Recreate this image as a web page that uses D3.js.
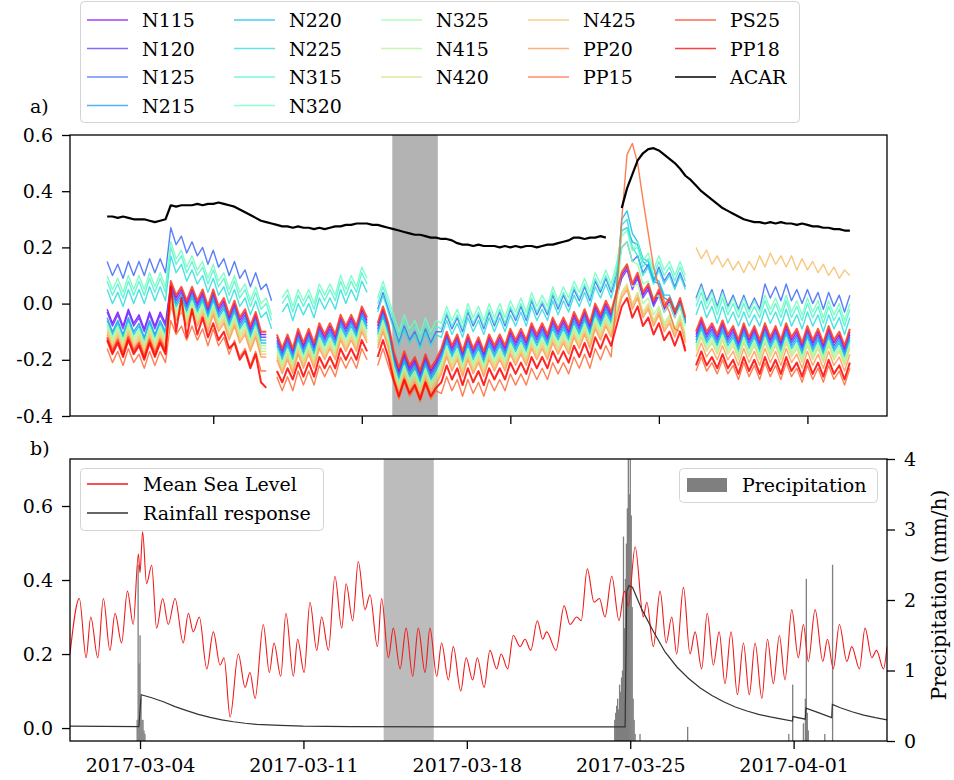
<!DOCTYPE html>
<html>
<head>
<meta charset="utf-8">
<script src="https://d3js.org/d3.v7.min.js"></script>
<style>
  body { margin: 0; background: #fff; }
  svg text { font-family: "DejaVu Serif", "Liberation Serif", "Noto Serif", serif; fill: #000; }
</style>
</head>
<body>
<svg id="chart" width="954" height="780"></svg>
<script>
// ---- panel a) : piezometer levels, one value every 6 h from 2017-03-01 00:00 ----
const gridStart = "2017-03-01T00:00";
const gridStepHours = 6;

const n115 = [-0.02,-0.07,-0.03,-0.08,-0.02,-0.07,-0.04,-0.09,-0.03,-0.08,-0.03,-0.07,
  0.07,0.02,0.05,0.00,0.05,0.00,0.04,-0.02,0.04,-0.02,0.01,-0.05,
  0.00,-0.06,-0.03,-0.09,-0.04,-0.11,-0.11,null,-0.12,-0.17,-0.12,-0.17,
  -0.10,-0.15,-0.10,-0.15,-0.08,-0.12,-0.08,-0.12,-0.05,-0.09,-0.05,-0.09,
  -0.02,-0.06,null,-0.08,-0.02,-0.08,-0.18,-0.24,-0.18,-0.23,-0.20,-0.25,
  -0.19,-0.24,-0.21,-0.17,-0.11,-0.16,-0.12,-0.18,-0.12,-0.17,-0.13,-0.18,
  -0.12,-0.16,-0.12,-0.16,-0.10,-0.14,-0.10,-0.14,-0.08,-0.12,-0.08,-0.12,
  -0.06,-0.10,-0.06,-0.10,-0.04,-0.08,-0.03,-0.08,-0.01,-0.05,0.00,-0.04,
  0.03,0.10,0.13,0.06,0.10,0.03,0.06,0.00,0.04,-0.02,0.01,-0.04,
  0.01,-0.06,null,-0.11,-0.06,-0.11,-0.08,-0.12,-0.07,-0.12,-0.09,-0.14,
  -0.08,-0.13,-0.09,-0.14,-0.08,-0.13,-0.09,-0.14,-0.08,-0.13,-0.10,-0.15,
  -0.09,-0.14,-0.10,-0.15,-0.09,-0.14,-0.11,-0.16,-0.10];
const n120 = [-0.03,-0.08,-0.04,-0.09,-0.03,-0.08,-0.05,-0.10,-0.04,-0.09,-0.04,-0.08,
  0.06,0.01,0.04,-0.01,0.04,-0.01,0.03,-0.03,0.03,-0.03,0.00,-0.06,
  -0.01,-0.07,-0.04,-0.10,-0.05,-0.12,-0.12,null,-0.13,-0.18,-0.13,-0.18,
  -0.11,-0.16,-0.11,-0.16,-0.09,-0.13,-0.09,-0.13,-0.06,-0.10,-0.06,-0.10,
  -0.03,-0.07,null,-0.09,-0.03,-0.09,-0.19,-0.25,-0.19,-0.24,-0.21,-0.26,
  -0.20,-0.25,-0.22,-0.18,-0.12,-0.17,-0.13,-0.19,-0.13,-0.18,-0.14,-0.19,
  -0.13,-0.17,-0.13,-0.17,-0.11,-0.15,-0.11,-0.15,-0.09,-0.13,-0.09,-0.13,
  -0.07,-0.11,-0.07,-0.11,-0.05,-0.09,-0.04,-0.09,-0.02,-0.06,-0.01,-0.05,
  0.02,0.09,0.12,0.05,0.09,0.02,0.05,-0.01,0.03,-0.03,0.00,-0.05,
  0.00,-0.07,null,-0.12,-0.07,-0.12,-0.09,-0.13,-0.08,-0.13,-0.10,-0.15,
  -0.09,-0.14,-0.10,-0.15,-0.09,-0.14,-0.10,-0.15,-0.09,-0.14,-0.11,-0.16,
  -0.10,-0.15,-0.11,-0.16,-0.10,-0.15,-0.12,-0.17,-0.11];
const n125 = [0.15,0.10,0.14,0.09,0.15,0.10,0.15,0.10,0.16,0.11,0.16,0.11,
  0.27,0.21,0.24,0.18,0.22,0.17,0.20,0.14,0.19,0.13,0.16,0.10,
  0.15,0.09,0.12,0.06,0.11,0.05,0.07,0.01,null,null,null,null,
  null,null,null,null,null,null,null,null,null,null,null,null,
  null,null,null,-0.02,0.04,-0.02,-0.08,-0.14,-0.08,-0.13,-0.10,-0.15,
  -0.09,-0.14,-0.10,-0.10,-0.04,-0.09,-0.05,-0.10,-0.03,-0.08,-0.04,-0.09,
  -0.03,-0.08,-0.03,-0.08,-0.02,-0.06,-0.01,-0.06,0.01,-0.04,0.00,-0.04,
  0.03,-0.02,0.03,-0.01,0.05,0.01,0.06,0.01,0.08,0.04,0.09,0.04,
  0.10,0.20,0.22,0.15,0.17,0.11,0.14,0.08,0.13,0.08,0.11,0.06,
  0.11,0.06,null,0.02,0.07,0.01,0.05,-0.01,0.05,-0.01,0.03,-0.02,
  0.03,-0.02,0.02,-0.02,0.07,0.02,0.06,0.01,0.07,0.01,0.05,0.00,
  0.05,0.00,0.04,-0.02,0.04,-0.01,0.03,-0.03,0.03];
const n215 = [-0.05,-0.10,-0.06,-0.11,-0.05,-0.10,-0.07,-0.12,-0.06,-0.11,-0.06,-0.10,
  0.05,0.00,0.03,-0.02,0.03,-0.02,0.02,-0.04,0.02,-0.04,-0.01,-0.07,
  -0.02,-0.08,-0.05,-0.11,-0.06,-0.13,-0.13,null,-0.14,-0.19,-0.14,-0.19,
  -0.12,-0.17,-0.12,-0.17,-0.10,-0.14,-0.10,-0.14,-0.07,-0.11,-0.07,-0.11,
  -0.04,-0.08,null,-0.10,-0.04,-0.10,-0.20,-0.26,-0.20,-0.25,-0.22,-0.27,
  -0.21,-0.26,-0.23,-0.19,-0.13,-0.18,-0.14,-0.20,-0.14,-0.19,-0.15,-0.20,
  -0.14,-0.18,-0.14,-0.18,-0.12,-0.16,-0.12,-0.16,-0.10,-0.14,-0.10,-0.14,
  -0.08,-0.12,-0.08,-0.12,-0.06,-0.10,-0.05,-0.10,-0.03,-0.07,-0.02,-0.06,
  0.04,0.26,0.27,0.22,0.21,0.15,0.13,0.08,0.07,0.02,0.01,-0.03,
  -0.01,-0.07,null,-0.13,-0.08,-0.13,-0.10,-0.14,-0.09,-0.14,-0.11,-0.16,
  -0.10,-0.15,-0.11,-0.16,-0.10,-0.15,-0.11,-0.16,-0.10,-0.15,-0.12,-0.17,
  -0.11,-0.16,-0.12,-0.17,-0.11,-0.16,-0.13,-0.18,-0.12];
const n220 = [-0.06,-0.11,-0.07,-0.12,-0.06,-0.11,-0.08,-0.13,-0.07,-0.12,-0.07,-0.11,
  0.04,-0.01,0.02,-0.03,0.02,-0.03,0.01,-0.05,0.01,-0.05,-0.02,-0.08,
  -0.03,-0.09,-0.06,-0.12,-0.07,-0.14,-0.14,null,-0.15,-0.20,-0.15,-0.20,
  -0.13,-0.18,-0.13,-0.18,-0.11,-0.15,-0.11,-0.15,-0.08,-0.12,-0.08,-0.12,
  -0.05,-0.09,null,-0.11,-0.05,-0.11,-0.21,-0.27,-0.21,-0.26,-0.23,-0.28,
  -0.22,-0.27,-0.24,-0.20,-0.14,-0.19,-0.15,-0.21,-0.15,-0.20,-0.16,-0.21,
  -0.15,-0.19,-0.15,-0.19,-0.13,-0.17,-0.13,-0.17,-0.11,-0.15,-0.11,-0.15,
  -0.09,-0.13,-0.09,-0.13,-0.07,-0.11,-0.06,-0.11,-0.04,-0.08,-0.03,-0.07,
  0.05,0.30,0.33,0.25,0.22,0.16,0.15,0.09,0.08,0.03,0.03,-0.02,
  0.00,-0.06,null,-0.14,-0.09,-0.14,-0.11,-0.15,-0.10,-0.15,-0.12,-0.17,
  -0.11,-0.16,-0.12,-0.17,-0.11,-0.16,-0.12,-0.17,-0.11,-0.16,-0.13,-0.18,
  -0.12,-0.17,-0.13,-0.18,-0.12,-0.17,-0.14,-0.19,-0.13];
const n225 = [0.05,0.00,0.04,-0.01,0.05,0.00,0.05,0.00,0.06,0.01,0.06,0.01,
  0.17,0.11,0.14,0.08,0.12,0.07,0.10,0.04,0.09,0.03,0.06,0.00,
  0.05,-0.01,0.02,-0.04,0.01,-0.05,-0.03,-0.09,null,-0.03,0.00,-0.06,
  0.00,-0.04,0.00,-0.05,0.02,-0.02,0.02,-0.02,0.05,0.00,0.05,0.01,
  0.08,0.04,null,-0.03,0.03,-0.03,-0.09,-0.15,-0.09,-0.14,-0.11,-0.16,
  -0.10,-0.15,-0.11,-0.12,-0.06,-0.11,-0.07,-0.12,-0.05,-0.10,-0.06,-0.11,
  -0.05,-0.10,-0.05,-0.10,-0.04,-0.08,-0.03,-0.08,-0.01,-0.06,-0.02,-0.06,
  0.01,-0.04,0.01,-0.03,0.03,-0.01,0.04,-0.01,0.06,0.02,0.07,0.02,
  0.09,0.28,0.30,0.20,0.17,0.10,0.13,0.07,0.12,0.07,0.10,0.05,
  0.10,0.05,null,-0.04,0.01,-0.05,-0.01,-0.07,-0.01,-0.07,-0.03,-0.08,
  -0.03,-0.08,-0.04,-0.08,-0.02,-0.07,-0.03,-0.08,-0.02,-0.08,-0.04,-0.09,
  -0.03,-0.08,-0.04,-0.10,-0.04,-0.09,-0.05,-0.11,-0.05];
const n315 = [0.08,0.03,0.07,0.02,0.08,0.03,0.08,0.03,0.09,0.04,0.09,0.04,
  0.20,0.14,0.17,0.11,0.15,0.10,0.13,0.07,0.12,0.06,0.09,0.03,
  0.08,0.02,0.05,-0.01,0.04,-0.02,0.00,-0.06,null,0.00,0.03,-0.03,
  0.03,-0.01,0.03,-0.02,0.05,0.01,0.05,0.01,0.08,0.03,0.08,0.04,
  0.11,0.07,null,0.00,0.06,0.00,-0.06,-0.12,-0.06,-0.11,-0.08,-0.13,
  -0.07,-0.12,-0.08,-0.09,-0.03,-0.08,-0.04,-0.09,-0.02,-0.07,-0.03,-0.08,
  -0.02,-0.07,-0.02,-0.07,-0.01,-0.05,0.00,-0.05,0.02,-0.03,0.01,-0.03,
  0.04,-0.01,0.04,0.00,0.06,0.02,0.07,0.02,0.09,0.05,0.10,0.05,
  0.12,0.26,0.27,0.19,0.20,0.13,0.16,0.10,0.15,0.10,0.13,0.08,
  0.13,0.08,null,-0.01,0.04,-0.02,0.02,-0.04,0.02,-0.04,0.00,-0.05,
  0.00,-0.05,-0.01,-0.05,0.01,-0.04,0.00,-0.05,0.01,-0.05,-0.01,-0.06,
  0.00,-0.05,-0.01,-0.07,-0.01,-0.06,-0.02,-0.08,-0.02];
const n320 = [0.10,0.05,0.09,0.04,0.10,0.05,0.10,0.05,0.11,0.06,0.11,0.06,
  0.22,0.16,0.19,0.13,0.17,0.12,0.15,0.09,0.14,0.08,0.11,0.05,
  0.10,0.04,0.07,0.01,0.06,0.00,0.02,-0.04,null,0.02,0.05,-0.01,
  0.05,0.01,0.05,0.00,0.07,0.03,0.07,0.03,0.10,0.05,0.10,0.06,
  0.13,0.09,null,0.02,0.08,0.02,-0.04,-0.10,-0.04,-0.09,-0.06,-0.11,
  -0.05,-0.10,-0.06,-0.07,-0.01,-0.06,-0.02,-0.07,0.00,-0.05,-0.01,-0.06,
  0.00,-0.05,0.00,-0.05,0.01,-0.03,0.02,-0.03,0.04,-0.01,0.03,-0.01,
  0.06,0.01,0.06,0.02,0.08,0.04,0.09,0.04,0.11,0.07,0.12,0.07,
  0.14,0.24,0.26,0.19,0.22,0.15,0.18,0.12,0.17,0.12,0.15,0.10,
  0.15,0.10,null,0.01,0.06,0.00,0.04,-0.02,0.04,-0.02,0.02,-0.03,
  0.02,-0.03,0.01,-0.03,0.03,-0.02,0.02,-0.03,0.03,-0.03,0.01,-0.04,
  0.02,-0.03,0.01,-0.05,0.01,-0.04,0.00,-0.06,0.00];
const n325 = [-0.07,-0.12,-0.08,-0.13,-0.07,-0.12,-0.09,-0.14,-0.08,-0.13,-0.08,-0.12,
  0.03,-0.02,0.01,-0.04,0.01,-0.04,0.00,-0.06,0.00,-0.06,-0.03,-0.09,
  -0.04,-0.10,-0.07,-0.13,-0.08,-0.15,-0.15,null,-0.16,-0.21,-0.16,-0.21,
  -0.14,-0.19,-0.14,-0.19,-0.12,-0.16,-0.12,-0.16,-0.09,-0.13,-0.09,-0.13,
  -0.06,-0.10,null,-0.12,-0.06,-0.12,-0.22,-0.28,-0.22,-0.27,-0.24,-0.29,
  -0.23,-0.28,-0.25,-0.21,-0.15,-0.20,-0.16,-0.22,-0.16,-0.21,-0.17,-0.22,
  -0.16,-0.20,-0.16,-0.20,-0.14,-0.18,-0.14,-0.18,-0.12,-0.16,-0.12,-0.16,
  -0.10,-0.14,-0.10,-0.14,-0.08,-0.12,-0.07,-0.12,-0.05,-0.09,-0.04,-0.08,
  0.02,0.20,0.22,0.15,0.14,0.07,0.08,0.02,0.03,-0.03,0.00,-0.05,
  -0.01,-0.08,null,-0.15,-0.10,-0.15,-0.12,-0.16,-0.11,-0.16,-0.13,-0.18,
  -0.12,-0.17,-0.13,-0.18,-0.12,-0.17,-0.13,-0.18,-0.12,-0.17,-0.14,-0.19,
  -0.13,-0.18,-0.14,-0.19,-0.13,-0.18,-0.15,-0.20,-0.14];
const n415 = [-0.08,-0.13,-0.09,-0.14,-0.08,-0.13,-0.10,-0.15,-0.09,-0.14,-0.09,-0.13,
  0.02,-0.03,0.00,-0.05,0.00,-0.05,-0.01,-0.07,-0.01,-0.07,-0.04,-0.10,
  -0.05,-0.11,-0.08,-0.14,-0.09,-0.16,-0.16,null,-0.17,-0.22,-0.17,-0.22,
  -0.15,-0.20,-0.15,-0.20,-0.13,-0.17,-0.13,-0.17,-0.10,-0.14,-0.10,-0.14,
  -0.07,-0.11,null,-0.13,-0.07,-0.13,-0.23,-0.29,-0.23,-0.28,-0.25,-0.30,
  -0.24,-0.29,-0.26,-0.22,-0.16,-0.21,-0.17,-0.23,-0.17,-0.22,-0.18,-0.23,
  -0.17,-0.21,-0.17,-0.21,-0.15,-0.19,-0.15,-0.19,-0.13,-0.17,-0.13,-0.17,
  -0.11,-0.15,-0.11,-0.15,-0.09,-0.13,-0.08,-0.13,-0.06,-0.10,-0.05,-0.09,
  0.00,0.12,0.14,0.06,0.07,0.00,0.02,-0.04,-0.01,-0.07,-0.04,-0.09,
  -0.04,-0.11,null,-0.16,-0.11,-0.16,-0.13,-0.17,-0.12,-0.17,-0.14,-0.19,
  -0.13,-0.18,-0.14,-0.19,-0.13,-0.18,-0.14,-0.19,-0.13,-0.18,-0.15,-0.20,
  -0.14,-0.19,-0.15,-0.20,-0.14,-0.19,-0.16,-0.21,-0.15];
const n420 = [-0.09,-0.14,-0.10,-0.15,-0.09,-0.14,-0.11,-0.16,-0.10,-0.15,-0.10,-0.14,
  0.01,-0.04,-0.01,-0.06,-0.01,-0.06,-0.02,-0.08,-0.02,-0.08,-0.05,-0.11,
  -0.06,-0.12,-0.09,-0.15,-0.10,-0.17,-0.17,null,-0.18,-0.23,-0.18,-0.23,
  -0.16,-0.21,-0.16,-0.21,-0.14,-0.18,-0.14,-0.18,-0.11,-0.15,-0.11,-0.15,
  -0.08,-0.12,null,-0.14,-0.08,-0.14,-0.24,-0.30,-0.24,-0.29,-0.26,-0.31,
  -0.25,-0.30,-0.27,-0.23,-0.17,-0.22,-0.18,-0.24,-0.18,-0.23,-0.19,-0.24,
  -0.18,-0.22,-0.18,-0.22,-0.16,-0.20,-0.16,-0.20,-0.14,-0.18,-0.14,-0.18,
  -0.12,-0.16,-0.12,-0.16,-0.10,-0.14,-0.09,-0.14,-0.07,-0.11,-0.06,-0.10,
  -0.03,0.04,0.07,0.00,0.04,-0.03,0.00,-0.06,-0.02,-0.08,-0.05,-0.10,
  -0.05,-0.12,null,-0.17,-0.12,-0.17,-0.14,-0.18,-0.13,-0.18,-0.15,-0.20,
  -0.14,-0.19,-0.15,-0.20,-0.14,-0.19,-0.15,-0.20,-0.14,-0.19,-0.16,-0.21,
  -0.15,-0.20,-0.16,-0.21,-0.15,-0.20,-0.17,-0.22,-0.16];
const n425 = [-0.10,-0.15,-0.11,-0.16,-0.10,-0.15,-0.12,-0.17,-0.11,-0.16,-0.11,-0.15,
  0.00,-0.05,-0.02,-0.07,-0.02,-0.07,-0.03,-0.09,-0.03,-0.09,-0.06,-0.12,
  -0.07,-0.13,-0.10,-0.16,-0.11,-0.18,-0.18,null,-0.19,-0.24,-0.19,-0.24,
  -0.17,-0.22,-0.17,-0.22,-0.15,-0.19,-0.15,-0.19,-0.12,-0.16,-0.12,-0.16,
  -0.09,-0.13,null,-0.15,-0.09,-0.15,-0.25,-0.31,-0.25,-0.30,-0.27,-0.32,
  -0.26,-0.31,-0.28,-0.24,-0.18,-0.23,-0.19,-0.25,-0.19,-0.24,-0.20,-0.25,
  -0.19,-0.23,-0.19,-0.23,-0.17,-0.21,-0.17,-0.21,-0.15,-0.19,-0.15,-0.19,
  -0.13,-0.17,-0.13,-0.17,-0.11,-0.15,-0.10,-0.15,-0.08,-0.12,-0.07,-0.11,
  -0.04,0.03,0.06,-0.01,0.03,-0.04,-0.01,-0.07,-0.03,-0.09,-0.06,-0.11,
  -0.06,-0.13,null,0.20,0.16,0.19,0.14,0.17,0.13,0.16,0.12,0.15,
  0.11,0.15,0.12,0.17,0.13,0.18,0.14,0.17,0.13,0.17,0.12,0.16,
  0.12,0.15,0.11,0.14,0.10,0.13,0.09,0.12,0.10];
const pp20 = [-0.11,-0.16,-0.12,-0.17,-0.11,-0.16,-0.13,-0.18,-0.12,-0.17,-0.12,-0.16,
  -0.01,-0.06,-0.03,-0.08,-0.03,-0.08,-0.04,-0.10,-0.04,-0.10,-0.07,-0.13,
  -0.08,-0.14,-0.11,-0.17,-0.12,-0.19,-0.19,null,-0.20,-0.25,-0.20,-0.25,
  -0.18,-0.23,-0.18,-0.23,-0.16,-0.20,-0.16,-0.20,-0.13,-0.17,-0.13,-0.17,
  -0.10,-0.14,null,-0.16,-0.10,-0.16,-0.26,-0.32,-0.26,-0.31,-0.28,-0.33,
  -0.27,-0.32,-0.29,-0.25,-0.19,-0.24,-0.20,-0.26,-0.20,-0.25,-0.21,-0.26,
  -0.20,-0.24,-0.20,-0.24,-0.18,-0.22,-0.18,-0.22,-0.16,-0.20,-0.16,-0.20,
  -0.14,-0.18,-0.14,-0.18,-0.12,-0.16,-0.11,-0.16,-0.09,-0.13,-0.08,-0.12,
  -0.05,0.02,0.05,-0.02,0.02,-0.05,-0.02,-0.08,-0.04,-0.10,-0.07,-0.12,
  -0.07,-0.14,null,-0.19,-0.14,-0.19,-0.16,-0.20,-0.15,-0.20,-0.17,-0.22,
  -0.16,-0.21,-0.17,-0.22,-0.16,-0.21,-0.17,-0.22,-0.16,-0.21,-0.18,-0.23,
  -0.17,-0.22,-0.18,-0.23,-0.17,-0.22,-0.19,-0.24,-0.18];
const pp15 = [-0.16,-0.21,-0.17,-0.22,-0.16,-0.21,-0.18,-0.23,-0.17,-0.22,-0.17,-0.21,
  -0.06,-0.11,-0.08,-0.13,-0.08,-0.13,-0.09,-0.15,-0.09,-0.15,-0.12,-0.18,
  -0.13,-0.19,-0.16,-0.22,-0.17,-0.24,-0.24,null,-0.26,-0.31,-0.26,-0.31,
  -0.24,-0.29,-0.24,-0.29,-0.22,-0.26,-0.22,-0.26,-0.19,-0.23,-0.19,-0.23,
  -0.16,-0.20,null,-0.22,-0.16,-0.22,-0.28,-0.34,-0.28,-0.33,-0.30,-0.35,
  -0.29,-0.34,-0.31,-0.32,-0.26,-0.31,-0.27,-0.33,-0.27,-0.32,-0.28,-0.33,
  -0.27,-0.31,-0.27,-0.31,-0.25,-0.29,-0.25,-0.29,-0.23,-0.27,-0.23,-0.27,
  -0.21,-0.25,-0.21,-0.25,-0.19,-0.23,-0.18,-0.23,-0.16,-0.20,-0.15,-0.19,
  0.02,0.30,0.53,0.57,0.50,0.37,0.25,0.13,0.06,0.01,-0.03,-0.09,
  -0.10,-0.16,null,-0.24,-0.19,-0.24,-0.21,-0.25,-0.20,-0.25,-0.22,-0.27,
  -0.21,-0.26,-0.22,-0.27,-0.21,-0.26,-0.22,-0.27,-0.21,-0.26,-0.23,-0.28,
  -0.22,-0.27,-0.23,-0.28,-0.22,-0.27,-0.24,-0.29,-0.23];
const ps25 = [-0.12,-0.17,-0.13,-0.18,-0.12,-0.17,-0.14,-0.19,-0.13,-0.18,-0.13,-0.17,
  0.08,0.03,0.06,0.01,0.06,0.01,0.05,-0.01,0.05,-0.01,0.02,-0.04,
  0.01,-0.05,-0.02,-0.08,-0.03,-0.10,-0.10,null,-0.11,-0.16,-0.11,-0.16,
  -0.09,-0.14,-0.09,-0.14,-0.07,-0.11,-0.07,-0.11,-0.04,-0.08,-0.04,-0.08,
  -0.01,-0.05,null,-0.07,-0.01,-0.07,-0.17,-0.23,-0.17,-0.22,-0.19,-0.24,
  -0.18,-0.23,-0.20,-0.16,-0.10,-0.15,-0.11,-0.17,-0.11,-0.16,-0.12,-0.17,
  -0.11,-0.15,-0.11,-0.15,-0.09,-0.13,-0.09,-0.13,-0.07,-0.11,-0.07,-0.11,
  -0.05,-0.09,-0.05,-0.09,-0.03,-0.07,-0.02,-0.07,0.00,-0.04,0.01,-0.03,
  0.04,0.11,0.14,0.07,0.11,0.04,0.07,0.01,0.05,-0.01,0.02,-0.03,
  0.02,-0.05,null,-0.10,-0.05,-0.10,-0.07,-0.11,-0.06,-0.11,-0.08,-0.13,
  -0.07,-0.12,-0.08,-0.13,-0.07,-0.12,-0.08,-0.13,-0.07,-0.12,-0.09,-0.14,
  -0.08,-0.13,-0.09,-0.14,-0.08,-0.13,-0.10,-0.15,-0.09];
const pp18 = [-0.13,-0.18,-0.14,-0.19,-0.13,-0.18,-0.15,-0.20,-0.14,-0.19,-0.14,-0.18,
  0.06,-0.10,0.02,-0.12,-0.02,-0.11,-0.05,-0.12,-0.07,-0.13,-0.10,-0.16,
  -0.14,-0.20,-0.17,-0.23,-0.18,-0.28,-0.30,null,-0.24,-0.28,-0.23,-0.27,
  -0.21,-0.26,-0.21,-0.26,-0.19,-0.23,-0.19,-0.23,-0.16,-0.20,-0.16,-0.20,
  -0.13,-0.17,null,-0.19,-0.13,-0.19,-0.27,-0.33,-0.27,-0.32,-0.29,-0.34,
  -0.28,-0.33,-0.30,-0.28,-0.22,-0.27,-0.23,-0.29,-0.23,-0.28,-0.24,-0.29,
  -0.23,-0.27,-0.23,-0.27,-0.21,-0.25,-0.21,-0.25,-0.19,-0.23,-0.19,-0.23,
  -0.17,-0.21,-0.17,-0.21,-0.15,-0.19,-0.14,-0.19,-0.12,-0.16,-0.11,-0.15,
  -0.08,-0.01,0.02,-0.05,-0.01,-0.08,-0.05,-0.11,-0.07,-0.13,-0.10,-0.15,
  -0.10,-0.17,null,-0.22,-0.17,-0.22,-0.19,-0.23,-0.18,-0.23,-0.20,-0.25,
  -0.19,-0.24,-0.20,-0.25,-0.19,-0.24,-0.20,-0.25,-0.19,-0.24,-0.21,-0.26,
  -0.20,-0.25,-0.21,-0.26,-0.20,-0.25,-0.22,-0.27,-0.21];
const acar = [0.31,0.31,0.305,0.31,0.305,0.30,0.30,0.30,0.295,0.29,0.295,0.30,
  0.35,0.345,0.35,0.35,0.35,0.355,0.35,0.355,0.355,0.36,0.355,0.35,
  0.345,0.335,0.325,0.315,0.305,0.295,0.29,0.285,0.28,0.275,0.275,0.27,
  0.275,0.27,0.27,0.265,0.27,0.265,0.27,0.275,0.275,0.28,0.28,0.285,
  0.285,0.285,0.28,0.28,0.275,0.27,0.265,0.26,0.255,0.25,0.245,0.245,
  0.24,0.235,0.235,0.23,0.23,0.225,0.215,0.21,0.21,0.205,0.21,0.205,
  0.205,0.205,0.20,0.205,0.20,0.205,0.20,0.205,0.205,0.20,0.205,0.21,
  0.21,0.215,0.22,0.225,0.235,0.235,0.23,0.235,0.235,0.24,0.235,null,
  null,0.34,0.41,0.46,0.51,0.535,0.55,0.553,0.545,0.53,0.515,0.50,
  0.48,0.455,0.44,0.42,0.40,0.385,0.37,0.355,0.34,0.33,0.32,0.31,
  0.30,0.295,0.29,0.29,0.285,0.29,0.285,0.29,0.285,0.285,0.28,0.285,
  0.28,0.275,0.275,0.27,0.27,0.265,0.265,0.26,0.26];

const seriesNames = ["N115","N120","N125","N215","N220","N225","N315","N320","N325",
  "N415","N420","N425","PP20","PP15","PS25","PP18","ACAR"];
const seriesValues = [n115,n120,n125,n215,n220,n225,n315,n320,n325,
  n415,n420,n425,pp20,pp15,ps25,pp18,acar];

const yTicksA = [-0.4,-0.2,0.0,0.2,0.4,0.6];

// grey span (both panels)
const bandSpan = ["2017-03-14T10:30", "2017-03-16T14:00"];

// ---- panel b) : mean sea level, peaks and troughs, in days since 2017-03-01 ----
const mslDays = [0.00,0.40,0.69,0.89,1.19,1.43,1.71,1.93,2.21,2.46,
  2.71,2.93,3.00,3.11,3.28,3.50,3.71,3.97,4.21,4.50,
  4.85,5.07,5.28,5.54,5.86,6.14,6.43,6.60,6.86,7.21,
  7.50,7.71,7.93,8.28,8.54,8.74,9.03,9.25,9.57,9.75,
  10.03,10.28,10.57,10.78,11.07,11.35,11.64,11.83,12.11,12.35,
  12.64,12.85,13.17,13.35,13.64,13.85,14.14,14.40,14.68,14.92,
  15.21,15.42,15.71,15.92,16.21,16.42,16.74,16.97,17.25,17.45,
  17.74,17.99,18.28,18.47,18.75,18.99,19.28,19.49,19.74,20.02,
  20.25,20.42,20.82,21.17,21.42,21.71,21.90,22.16,22.45,22.68,
  22.92,23.21,23.52,23.75,23.92,24.21,24.56,24.71,24.99,25.28,
  25.54,25.78,25.99,26.28,26.56,26.78,27.06,27.30,27.56,27.81,
  28.06,28.32,28.59,28.85,29.10,29.35,29.64,29.88,30.13,30.39,
  30.63,30.92,31.20,31.42,31.63,31.92,32.25,32.45,32.70,32.96,
  33.28,33.49,33.82,34.06,34.35,34.55,34.85,35.00];
const mslLevel = [0.20,0.35,0.19,0.30,0.19,0.35,0.21,0.31,0.23,0.37,
  0.28,0.47,0.42,0.53,0.39,0.44,0.27,0.35,0.28,0.35,
  0.23,0.31,0.26,0.30,0.16,0.26,0.17,0.19,0.03,0.20,
  0.11,0.15,0.08,0.28,0.15,0.23,0.14,0.31,0.14,0.24,
  0.15,0.34,0.21,0.30,0.21,0.41,0.27,0.39,0.29,0.45,
  0.32,0.36,0.22,0.35,0.19,0.27,0.16,0.27,0.14,0.27,
  0.15,0.27,0.14,0.23,0.13,0.22,0.10,0.19,0.13,0.19,
  0.11,0.21,0.16,0.20,0.16,0.25,0.22,0.24,0.21,0.29,
  0.24,0.26,0.21,0.33,0.28,0.30,0.29,0.43,0.34,0.35,
  0.30,0.41,0.29,0.37,0.33,0.49,0.30,0.34,0.22,0.37,
  0.23,0.30,0.20,0.38,0.20,0.26,0.16,0.31,0.17,0.26,
  0.12,0.26,0.09,0.23,0.09,0.23,0.08,0.24,0.12,0.25,
  0.13,0.32,0.19,0.28,0.18,0.32,0.18,0.24,0.16,0.28,
  0.18,0.22,0.16,0.27,0.19,0.21,0.16,0.22];

// rainfall response (m)
const rrDays = [0,2.95,3.05,3.5,4.0,4.5,5.0,5.5,6.0,6.5,
  7.0,7.5,8.0,9.0,10.0,12.0,16.0,20.0,23.78,23.85,
  23.95,24.1,24.5,25.0,25.5,26.0,26.5,27.0,27.5,28.0,
  28.5,29.0,29.5,30.0,30.5,30.95,30.97,31.5,31.53,32.0,
  32.63,32.66,33.0,33.5,34.0,34.5,35.0];
const rrLevel = [0.005,0.004,0.090,0.082,0.071,0.058,0.047,0.037,0.029,0.022,
  0.017,0.013,0.010,0.007,0.005,0.004,0.003,0.003,0.003,0.37,
  0.385,0.38,0.32,0.26,0.205,0.165,0.134,0.108,0.088,0.071,
  0.057,0.046,0.037,0.030,0.024,0.019,0.031,0.024,0.054,0.043,
  0.028,0.064,0.055,0.044,0.035,0.028,0.022];

// hourly precipitation (mm/h), only non-zero hours
const precipHours = ["2017-03-03T21","2017-03-03T22","2017-03-03T23","2017-03-04T00","2017-03-04T01",
  "2017-03-04T02","2017-03-04T03","2017-03-04T04","2017-03-04T05",
  "2017-03-24T08","2017-03-24T09","2017-03-24T10","2017-03-24T11","2017-03-24T12","2017-03-24T13",
  "2017-03-24T14","2017-03-24T15","2017-03-24T16","2017-03-24T17","2017-03-24T18","2017-03-24T19",
  "2017-03-24T20","2017-03-24T21","2017-03-24T22","2017-03-24T23","2017-03-25T00","2017-03-25T01",
  "2017-03-25T02","2017-03-25T03","2017-03-25T04","2017-03-25T05","2017-03-25T10","2017-03-27T11",
  "2017-03-31T19","2017-03-31T23","2017-04-01T10","2017-04-01T12","2017-04-01T13","2017-04-01T14",
  "2017-04-01T15","2017-04-02T08","2017-04-02T16"];
const precipMM = [0.3,2.5,1.1,1.5,0.6,
  0.3,0.3,0.15,0.1,
  0.3,0.4,0.5,0.6,0.45,0.8,
  0.7,0.9,1.0,2.9,1.6,2.3,
  2.8,3.3,4.4,3.5,4.3,3.2,
  1.9,0.6,0.3,0.1,0.1,0.2,
  0.1,0.8,0.25,0.6,2.3,0.4,
  0.15,0.1,2.5];

const yTicksB = [0.0,0.2,0.4,0.6];
const yTicksPrecip = [0,1,2,3,4];

// ---------------------------------------------------------------
const svg = d3.select("#chart");
const left = 70, right = 887;
const topA = 135, botA = 416;
const topB = 459, botB = 741;
const fontSize = 19;
const serif = '"DejaVu Serif", "Liberation Serif", "Noto Serif", serif';

const day0 = Date.UTC(2017, 2, 1);
const parseMin = d3.utcParse("%Y-%m-%dT%H:%M");
const parseHour = d3.utcParse("%Y-%m-%dT%H");
const gridT0 = parseMin(gridStart).getTime();
const fromDays = d => new Date(day0 + d * 864e5);

// matplotlib "rainbow" colormap
function rainbow(x) {
  const c = v => Math.round(255 * Math.max(0, Math.min(1, v)));
  return d3.rgb(c(Math.abs(2 * x - 0.5)), c(Math.sin(Math.PI * x)), c(Math.cos(Math.PI * x / 2))).formatHex();
}
const colors = seriesNames.map((n, i) => n === "ACAR" ? "#000000" : rainbow(i / 15));

const minusFmt = f => v => d3.format(f)(v).replace("\u2212", "-");

function styleAxis(g) {
  g.select(".domain").remove();
  g.attr("font-family", serif).attr("font-size", fontSize);
  g.selectAll(".tick line").attr("stroke", "#000").attr("stroke-width", 1.3);
  g.selectAll(".tick text").attr("fill", "#000").style("font-family", serif);
}

const defs = svg.append("defs");
defs.append("clipPath").attr("id", "clipA").append("rect")
  .attr("x", left).attr("y", topA).attr("width", right - left).attr("height", botA - topA);
defs.append("clipPath").attr("id", "clipB").append("rect")
  .attr("x", left).attr("y", topB).attr("width", right - left).attr("height", botB - topB);

// ================= panel a =================
const xA = d3.scaleUtc()
  .domain([new Date(Date.UTC(2017, 1, 27, 6)), new Date(Date.UTC(2017, 3, 6, 18))])
  .range([left, right]);
const yA = d3.scaleLinear().domain([-0.4, 0.6]).range([botA, topA]);

const gA = svg.append("g").attr("clip-path", "url(#clipA)");
gA.append("rect")
  .attr("x", xA(parseMin(bandSpan[0]))).attr("y", topA)
  .attr("width", xA(parseMin(bandSpan[1])) - xA(parseMin(bandSpan[0])))
  .attr("height", botA - topA)
  .attr("fill", "#b3b3b3");

const lineA = d3.line()
  .defined(d => d != null)
  .x((d, i) => xA(new Date(gridT0 + i * gridStepHours * 3600e3)))
  .y(d => yA(d));

seriesValues.forEach((vals, k) => {
  const name = seriesNames[k];
  const isAcar = name === "ACAR";
  const isRed = name === "PS25" || name === "PP18";
  gA.append("path")
    .datum(vals)
    .attr("d", lineA)
    .attr("fill", "none")
    .attr("stroke", colors[k])
    .attr("stroke-width", isAcar ? 2.2 : (isRed ? 2 : 1.4))
    .attr("stroke-opacity", isAcar ? 1 : 0.85)
    .attr("stroke-linejoin", "round");
});

svg.append("g").attr("transform", `translate(${left},0)`)
  .call(d3.axisLeft(yA).tickValues(yTicksA).tickSize(8).tickPadding(9).tickFormat(minusFmt(".1f")))
  .call(styleAxis);
svg.append("g").attr("transform", `translate(0,${botA})`)
  .call(d3.axisBottom(xA).ticks(d3.utcMonday.every(1)).tickSize(8).tickFormat(""))
  .call(styleAxis);
svg.append("rect").attr("x", left).attr("y", topA).attr("width", right - left).attr("height", botA - topA)
  .attr("fill", "none").attr("stroke", "#000").attr("stroke-width", 1.3);

svg.append("text").attr("x", 30).attr("y", 113).attr("font-size", fontSize).text("a)");

// legend of panel a (5 columns, filled column by column)
const legA = svg.append("g");
legA.append("rect").attr("x", 80.5).attr("y", 1.5).attr("width", 719).attr("height", 121).attr("rx", 4)
  .attr("fill", "#fff").attr("fill-opacity", 0.8).attr("stroke", "#d4d4d4");
const perCol = [4, 4, 3, 3, 3];
let idx = 0;
perCol.forEach((n, col) => {
  for (let r = 0; r < n; r++, idx++) {
    const cy = 20 + r * 28.5;
    const lx = 87 + col * 147;
    legA.append("line").attr("x1", lx).attr("x2", lx + 41).attr("y1", cy).attr("y2", cy)
      .attr("stroke", colors[idx]).attr("stroke-width", 1.6)
      .attr("stroke-opacity", seriesNames[idx] === "ACAR" ? 1 : 0.75);
    legA.append("text").attr("x", lx + 55).attr("y", cy + 7).attr("font-size", fontSize).text(seriesNames[idx]);
  }
});

// ================= panel b =================
const xB = d3.scaleUtc().domain([fromDays(0), fromDays(35)]).range([left, right]);
const yB = d3.scaleLinear().domain([-0.035, 0.727]).range([botB, topB]);
const yP = d3.scaleLinear().domain([0, 4]).range([botB, topB]);

const gB = svg.append("g").attr("clip-path", "url(#clipB)");
gB.append("rect")
  .attr("x", xB(parseMin(bandSpan[0]))).attr("y", topB)
  .attr("width", xB(parseMin(bandSpan[1])) - xB(parseMin(bandSpan[0])))
  .attr("height", botB - topB)
  .attr("fill", "#bcbcbc");

// precipitation bars (right axis)
gB.selectAll("rect.rain")
  .data(precipHours.map((h, i) => ({ t: parseHour(h), v: precipMM[i] })))
  .join("rect")
  .attr("class", "rain")
  .attr("x", d => xB(d.t) - 0.6)
  .attr("width", 1.3)
  .attr("y", d => yP(d.v))
  .attr("height", d => yP(0) - yP(d.v))
  .attr("fill", "#7f7f7f");

gB.append("path")
  .datum(mslDays.map((d, i) => [fromDays(d), mslLevel[i]]))
  .attr("d", d3.line().x(d => xB(d[0])).y(d => yB(d[1])).curve(d3.curveMonotoneX))
  .attr("fill", "none").attr("stroke", "#f01a1a").attr("stroke-width", 1.1);

gB.append("path")
  .datum(rrDays.map((d, i) => [fromDays(d), rrLevel[i]]))
  .attr("d", d3.line().x(d => xB(d[0])).y(d => yB(d[1])))
  .attr("fill", "none").attr("stroke", "#333").attr("stroke-width", 1.2);

svg.append("g").attr("transform", `translate(${left},0)`)
  .call(d3.axisLeft(yB).tickValues(yTicksB).tickSize(8).tickPadding(9).tickFormat(minusFmt(".1f")))
  .call(styleAxis);
svg.append("g").attr("transform", `translate(${right},0)`)
  .call(d3.axisRight(yP).tickValues(yTicksPrecip).tickSize(8).tickPadding(9).tickFormat(d3.format("d")))
  .call(styleAxis);
svg.append("g").attr("transform", `translate(0,${botB})`)
  .call(d3.axisBottom(xB).ticks(d3.utcSaturday.every(1)).tickSize(8).tickPadding(10)
    .tickFormat(d3.utcFormat("%Y-%m-%d")))
  .call(styleAxis);
svg.append("rect").attr("x", left).attr("y", topB).attr("width", right - left).attr("height", botB - topB)
  .attr("fill", "none").attr("stroke", "#000").attr("stroke-width", 1.3);

svg.append("text").attr("x", 30).attr("y", 455).attr("font-size", fontSize).text("b)");
svg.append("text")
  .attr("transform", "translate(946,595) rotate(-90)")
  .attr("text-anchor", "middle").attr("font-size", 20)
  .text("Precipitation (mm/h)");

// legends of panel b
const legB = svg.append("g");
legB.append("rect").attr("x", 80.5).attr("y", 468.5).attr("width", 243).attr("height", 62).attr("rx", 4)
  .attr("fill", "#fff").attr("fill-opacity", 0.8).attr("stroke", "#d4d4d4");
[["Mean Sea Level", "#f01a1a", 484], ["Rainfall response", "#333", 513]].forEach(([label, c, cy]) => {
  legB.append("line").attr("x1", 87).attr("x2", 128).attr("y1", cy).attr("y2", cy)
    .attr("stroke", c).attr("stroke-width", 1.3);
  legB.append("text").attr("x", 143).attr("y", cy + 7).attr("font-size", fontSize).text(label);
});

const legP = svg.append("g");
legP.append("rect").attr("x", 679.5).attr("y", 468.5).attr("width", 198).attr("height", 34).attr("rx", 4)
  .attr("fill", "#fff").attr("fill-opacity", 0.8).attr("stroke", "#d4d4d4");
legP.append("rect").attr("x", 687).attr("y", 478).attr("width", 40).attr("height", 14).attr("fill", "#7f7f7f");
legP.append("text").attr("x", 742).attr("y", 492).attr("font-size", fontSize).text("Precipitation");

// force the serif family on every text node
svg.selectAll("text").style("font-family", serif);
</script>
</body>
</html>
